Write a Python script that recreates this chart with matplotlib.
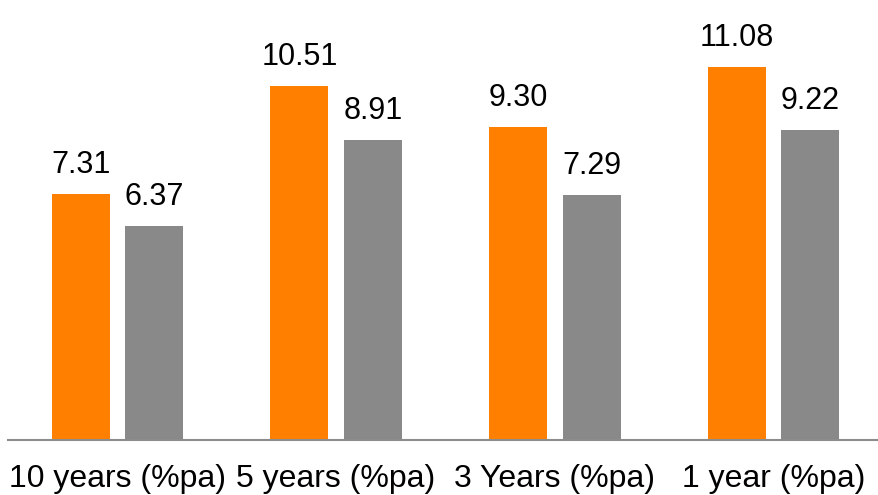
import numpy as np
import matplotlib
matplotlib.use("Agg")
import matplotlib.pyplot as plt

plt.rcParams['font.family'] = ['Liberation Sans', 'DejaVu Sans']

periods = ['10 years (%pa)', '5 years (%pa)', '3 Years (%pa)', '1 year (%pa)']
fund = [7.31, 10.51, 9.30, 11.08]
benchmark = [6.37, 8.91, 7.29, 9.22]

orange = '#FF8000'
grey = '#898989'

fig = plt.figure(figsize=(8.79, 4.95), dpi=100)
ax = fig.add_axes([8 / 879, 55 / 495, 875 / 879, 440 / 495])

x = np.arange(len(periods))
w = 0.265
off = 0.168

b1 = ax.bar(x - off, fund, w, color=orange)
b2 = ax.bar(x + off, benchmark, w, color=grey)

# value labels above each bar
for bars, vals in ((b1, fund), (b2, benchmark)):
    for b, v in zip(bars, vals):
        ax.annotate(f'{v:.2f}', (b.get_x() + b.get_width() / 2, v),
                    xytext=(0, 10), textcoords='offset points',
                    ha='center', va='bottom', fontsize=22)

ax.set_xlim(-0.5, 3.5)
ax.set_ylim(0, 13.07)
ax.set_xticks(x)
ax.set_xticklabels(periods, fontsize=23)
ax.tick_params(axis='x', length=0, pad=17)
ax.set_yticks([])
for s in ('top', 'right', 'left'):
    ax.spines[s].set_visible(False)
ax.spines['bottom'].set_color('#8c8c8c')
ax.spines['bottom'].set_linewidth(1.5)

fig.savefig('out.png', dpi=100)
